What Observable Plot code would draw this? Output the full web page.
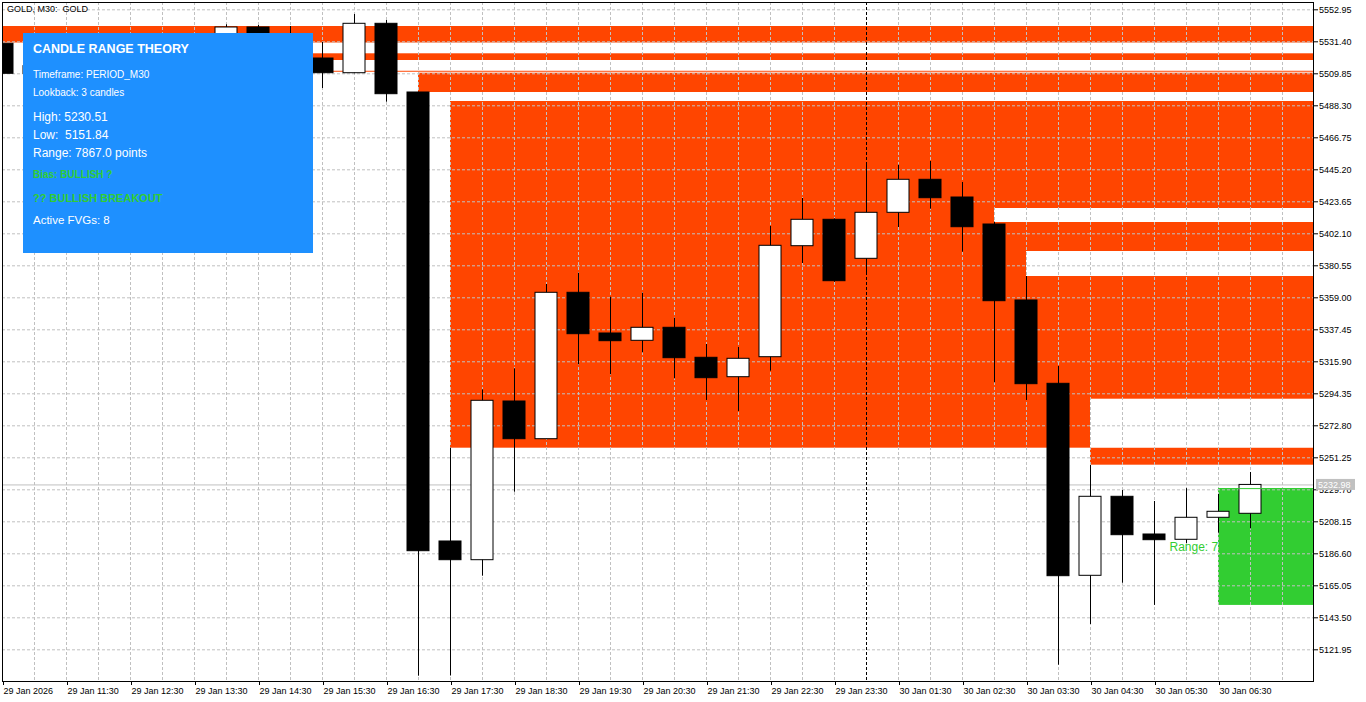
<!DOCTYPE html>
<html><head><meta charset="utf-8">
<script src="https://cdn.jsdelivr.net/npm/d3@7"></script>
<script src="https://cdn.jsdelivr.net/npm/@observablehq/plot@0.6"></script>
<style>
html,body{margin:0;padding:0;background:#fff;overflow:hidden;}
#wrap{position:relative;width:1366px;height:702px;}
#panel{position:absolute;left:23px;top:33px;width:290px;height:220px;background:#1E90FF;font-family:"Liberation Sans",Arial,sans-serif;color:#fff;}
#panel div{position:absolute;left:10px;white-space:pre;line-height:1;}
</style></head><body><div id="wrap"></div>
<script>
// ---- data ----
const symbolTitle = "GOLD, M30:  GOLD";
const candleTimes = ["29 Jan 10:30","29 Jan 11:00","29 Jan 11:30","29 Jan 12:00","29 Jan 12:30","29 Jan 13:00","29 Jan 13:30","29 Jan 14:00","29 Jan 14:30","29 Jan 15:00","29 Jan 15:30","29 Jan 16:00","29 Jan 16:30","29 Jan 17:00","29 Jan 17:30","29 Jan 18:00","29 Jan 18:30","29 Jan 19:00","29 Jan 19:30","29 Jan 20:00","29 Jan 20:30","29 Jan 21:00","29 Jan 21:30","29 Jan 22:00","29 Jan 22:30","29 Jan 23:00","29 Jan 23:30","30 Jan 01:00","30 Jan 01:30","30 Jan 02:00","30 Jan 02:30","30 Jan 03:00","30 Jan 03:30","30 Jan 04:00","30 Jan 04:30","30 Jan 05:00","30 Jan 05:30","30 Jan 06:00","30 Jan 06:30","30 Jan 07:00"];
const openP  = [5530.05,5509.85,5515.00,5510.00,5500.00,5512.00,5522.00,5516.00,5541.03,5525.00,5520.15,5510.25,5543.52,5497.26,5194.89,5182.29,5289.16,5263.78,5362.37,5334.96,5330.04,5338.80,5318.60,5305.53,5319.00,5393.75,5411.53,5385.26,5416.24,5438.47,5426.54,5408.36,5357.18,5301.08,5171.78,5224.99,5199.60,5196.03,5210.85,5213.54];
const highP  = [5533.60,5522.00,5528.00,5520.00,5518.00,5530.00,5534.00,5542.85,5542.38,5541.70,5530.93,5549.78,5545.74,5497.50,5257.72,5297.04,5311.19,5367.96,5375.57,5359.40,5362.10,5345.26,5327.55,5325.53,5407.02,5425.87,5412.20,5448.77,5448.30,5450.79,5436.65,5409.91,5373.34,5312.73,5246.06,5229.23,5221.82,5230.51,5226.54,5241.35];
const lowP   = [5505.30,5498.00,5505.00,5495.00,5494.00,5506.00,5509.00,5510.00,5518.00,5515.00,5499.95,5509.90,5490.72,5104.17,5104.30,5171.52,5228.09,5263.50,5313.88,5307.15,5321.96,5304.45,5289.84,5282.43,5309.57,5382.10,5369.50,5374.02,5406.34,5418.67,5389.71,5301.76,5289.84,5111.58,5138.99,5166.80,5151.84,5193.54,5200.48,5203.44];
const closeP = [5509.85,5515.00,5510.00,5500.00,5512.00,5522.00,5516.00,5541.03,5525.00,5520.50,5510.25,5543.52,5496.11,5188.35,5182.29,5289.64,5263.78,5362.37,5334.49,5329.78,5338.80,5318.33,5304.86,5317.92,5394.02,5411.53,5370.18,5416.24,5438.47,5426.07,5406.54,5356.71,5300.82,5171.52,5224.99,5199.13,5195.76,5210.85,5214.89,5232.98];

const yTicks = [5121.95,5143.50,5165.05,5186.60,5208.15,5229.70,5251.25,5272.80,5294.35,5315.90,5337.45,5359.00,5380.55,5402.10,5423.65,5445.20,5466.75,5488.30,5509.85,5531.40,5552.95];
const xTickIndex = [0,2,4,6,8,10,12,14,16,18,20,22,24,26,28,30,32,34,36,38];
const xTickLabels = ["29 Jan 2026","29 Jan 11:30","29 Jan 12:30","29 Jan 13:30","29 Jan 14:30","29 Jan 15:30","29 Jan 16:30","29 Jan 17:30","29 Jan 18:30","29 Jan 19:30","29 Jan 20:30","29 Jan 21:30","29 Jan 22:30","29 Jan 23:30","30 Jan 01:30","30 Jan 02:30","30 Jan 03:30","30 Jan 04:30","30 Jan 05:30","30 Jan 06:30"];
const daySeparatorIndex = [27];

// FVG zones (visible filled bands): start candle, low, high
const fvgStart = [0, 2, 2, 13, 14, 34];
const fvgLow   = [5530.59, 5518.81, 5510.90, 5497.26, 5257.72, 5246.27];
const fvgHigh  = [5541.70, 5523.32, 5511.55, 5510.25, 5491.20, 5257.72];
// overlapping zones that cancel out (appear blank)
const overlapStart = [31, 32, 34];
const overlapLow   = [5409.71, 5373.34, 5257.72];
const overlapHigh  = [5419.14, 5390.18, 5290.71];

// candle range theory box
const rangeStart = 38;
const rangeHigh = 5230.51;
const rangeLow = 5151.84;
const rangePoints = 7867.0;

const panelLines = ["CANDLE RANGE THEORY","Timeframe: PERIOD_M30","Lookback: 3 candles","High: 5230.51","Low:  5151.84","Range: 7867.0 points","Bias: BULLISH ?","?? BULLISH BREAKOUT","Active FVGs: 8"];

// ---- build ----
const n = openP.length;
const candles = d3.range(n).map(i => ({k: i, t: candleTimes[i], o: openP[i], h: highP[i], l: lowP[i], c: closeP[i]}));
const fvgs = fvgStart.map((s, i) => ({s, lo: fvgLow[i], hi: fvgHigh[i]}));
const overlaps = overlapStart.map((s, i) => ({s, lo: overlapLow[i], hi: overlapHigh[i]}));
const rangeBox = [{s: rangeStart, lo: rangeLow, hi: rangeHigh}];
const tickLabel = new Map(xTickIndex.map((k, i) => [k, xTickLabels[i]]));

const W = 1366, H = 702;
const mL = 2, mR = 53, mT = 2, mB = 21;
const pxPerCandle = 32;
const xMax = (W - mL - mR) / pxPerCandle;
const halfBody = 11 / pxPerCandle;
const ORANGE = "#FF4500", GREEN = "#32CD32", GRID = "#C0C0C0";
const FONT = '"Liberation Sans", Arial, sans-serif';

const plot = Plot.plot({
  width: W, height: H,
  marginLeft: mL, marginRight: mR, marginTop: mT, marginBottom: mB,
  style: {fontFamily: FONT, fontSize: "9px", background: "#fff", overflow: "visible", color: "black"},
  x: {domain: [0, xMax], axis: null},
  y: {domain: [5100.60, 5557.866], axis: null},
  marks: [
    Plot.rect(fvgs, {x1: "s", x2: xMax, y1: "lo", y2: "hi", fill: ORANGE, clip: true}),
    Plot.rect(overlaps, {x1: "s", x2: xMax, y1: "lo", y2: "hi", fill: "white", clip: true}),
    Plot.rect(rangeBox, {x1: "s", x2: xMax, y1: "lo", y2: "hi", fill: GREEN}),
    Plot.ruleX(d3.range(1, Math.floor(xMax) + 1), {stroke: GRID, strokeDasharray: "3,2"}),
    Plot.ruleY(yTicks, {stroke: GRID, strokeDasharray: "3,2"}),
    Plot.ruleY([closeP[n - 1]], {stroke: GRID}),
    Plot.ruleX(daySeparatorIndex, {stroke: "black", strokeDasharray: "3,2"}),
    Plot.ruleX(candles, {x: "k", y1: "l", y2: "h", stroke: "black", clip: true}),
    Plot.rect(candles, {x1: d => d.k - halfBody, x2: d => d.k + halfBody, y1: "o", y2: "c",
      fill: d => d.c >= d.o ? "white" : "black", stroke: "black", clip: true}),
    Plot.ruleY([rangeHigh], {x1: rangeStart, x2: xMax, stroke: GREEN}),
    Plot.text(rangeBox, {x: "s", y: d => (d.lo + d.hi) / 2, text: () => `Range: ${rangePoints.toFixed(1)} pts`, fill: GREEN, fontSize: 12}),
    Plot.axisY(yTicks, {anchor: "right", tickSize: 4, tickPadding: 1.5, tickFormat: d => d.toFixed(2), fontSize: 9, stroke: "black", fill: "black"}),
    Plot.axisX(xTickIndex, {anchor: "bottom", tickSize: 4, tickPadding: 2, tickFormat: d => tickLabel.get(d), textAnchor: "start", dx: 1, fontSize: 9, stroke: "black", fill: "black"}),
    Plot.frame({stroke: "black"})
  ]
});

document.getElementById("wrap").appendChild(plot);
const svg = d3.select(plot);
const ys = plot.scale("y"), xs = plot.scale("x");
const lastY = ys.apply(closeP[n - 1]);
const axX = xs.range[1];
svg.append("rect").attr("x", axX + 3).attr("y", lastY - 5.5).attr("width", 39).attr("height", 11).attr("fill", GRID);
svg.append("text").attr("x", axX + 5).attr("y", lastY).attr("dy", "0.35em").attr("fill", "white")
  .attr("text-anchor", "start")
  .style("font-size", "9px").style("font-family", FONT).text(closeP[n - 1].toFixed(2));
svg.append("text").attr("x", xs.range[0] + 5).attr("y", 9).attr("dy", "0.35em").attr("fill", "black")
  .attr("text-anchor", "start")
  .style("font-size", "9px").style("white-space", "pre").style("font-family", FONT).text(symbolTitle);

// info panel
const panel = document.createElement("div");
panel.id = "panel";
const styles = [
  {top: 10, size: 12.5, bold: true, color: "#fff"},
  {top: 37, size: 10, color: "#fff"},
  {top: 55, size: 10, color: "#fff"},
  {top: 77.7, size: 12, color: "#fff"},
  {top: 96, size: 12, color: "#fff"},
  {top: 113.7, size: 12, color: "#fff"},
  {top: 137, size: 10, bold: true, color: GREEN},
  {top: 159.8, size: 11, bold: true, color: GREEN},
  {top: 182.3, size: 11.5, color: "#fff"}
];
panelLines.forEach((t, i) => {
  const d = document.createElement("div");
  const s = styles[i];
  d.textContent = t;
  d.style.top = s.top + "px";
  d.style.fontSize = s.size + "px";
  d.style.fontWeight = s.bold ? "bold" : "normal";
  d.style.color = s.color;
  panel.appendChild(d);
});
document.getElementById("wrap").appendChild(panel);
</script>
</body></html>
